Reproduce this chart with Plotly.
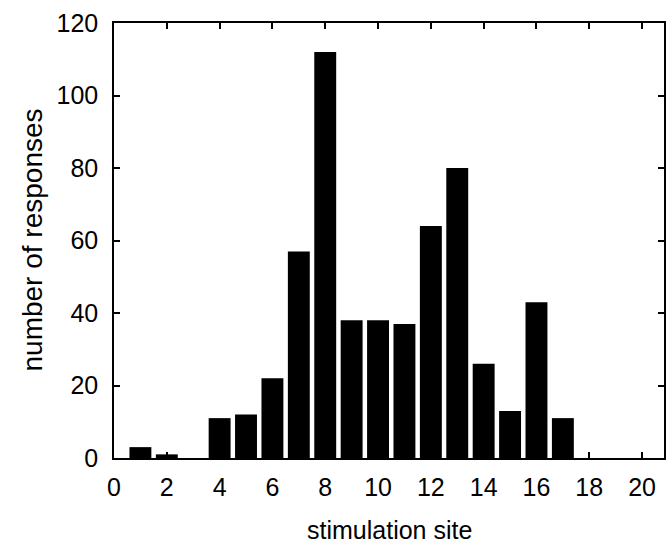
import plotly.graph_objects as go

sites = list(range(1, 18))
responses = [3, 1, 0, 11, 12, 22, 57, 112, 38, 38, 37, 64, 80, 26, 13, 43, 11]
x_ticks = [0, 2, 4, 6, 8, 10, 12, 14, 16, 18, 20]
y_ticks = [0, 20, 40, 60, 80, 100, 120]
x_title = "stimulation site"
y_title = "number of responses"

fig = go.Figure()
fig.add_trace(go.Bar(x=sites, y=responses, marker=dict(color="black", line=dict(width=0)), width=0.83))

font = dict(family="Liberation Sans, Arial, Helvetica, sans-serif", color="black")
axis_common = dict(
    showline=True, linecolor="black", linewidth=1.5, mirror="ticks",
    ticks="inside", ticklen=6, tickwidth=1.5, tickcolor="black",
    showgrid=False, zeroline=False, tickfont=dict(size=25, **font),
)
fig.update_layout(
    width=666, height=544,
    margin=dict(l=114, r=0, t=23, b=86),
    plot_bgcolor="white", paper_bgcolor="white",
    showlegend=False,
    xaxis=dict(range=[0, 20.83], tickvals=x_ticks, ticklabelstandoff=6, **axis_common),
    yaxis=dict(range=[0, 120], tickvals=y_ticks, ticklabelstandoff=9, **axis_common),
    annotations=[
        dict(text=x_title, xref="paper", yref="paper", x=0.5, y=0, yshift=-72,
             xanchor="center", yanchor="middle", showarrow=False, font=dict(size=25, **font)),
        dict(text=y_title, xref="paper", yref="paper", x=0, y=0.5, xshift=-82,
             xanchor="center", yanchor="middle", textangle=-90, showarrow=False,
             font=dict(size=28, **font)),
    ],
)
fig.write_html("out.html")
